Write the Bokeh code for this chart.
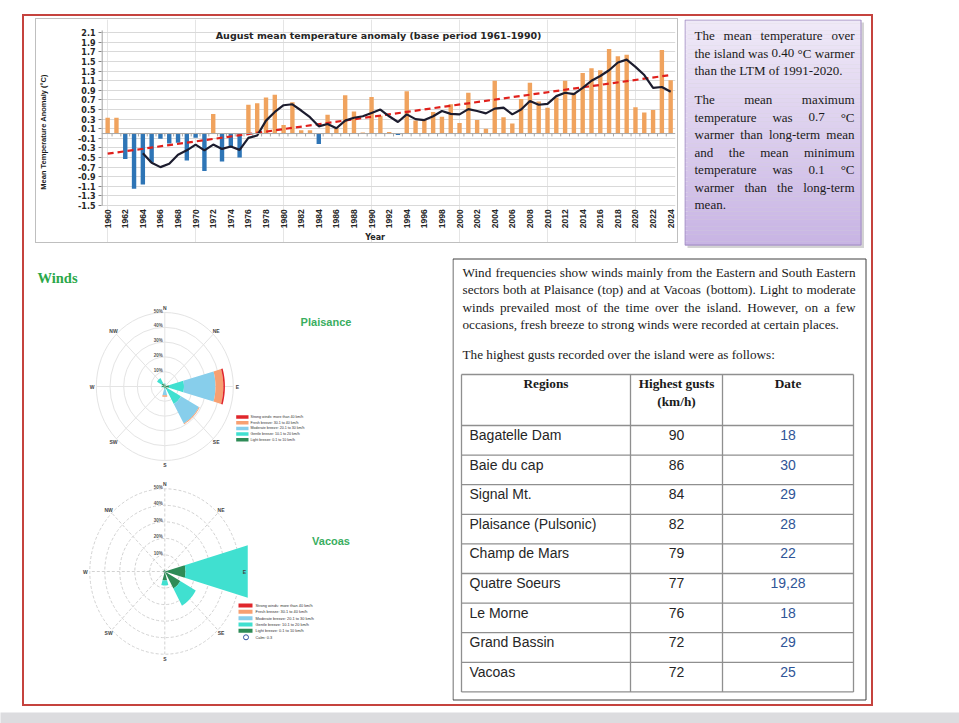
import numpy as np
from bokeh.plotting import figure
from bokeh.models import Range1d, FixedTicker, Label, Span, ColumnDataSource, PrintfTickFormatter
from bokeh.layouts import column, row
from bokeh.embed import file_html
from bokeh.resources import INLINE
from bokeh.core.properties import value

# ---------------- DATA ----------------
years = list(range(1960, 2025))
anomaly = [0.33, 0.33, -0.53, -1.15, -1.06, -0.60, -0.11, -0.21, -0.19, -0.56,
           -0.09, -0.78, 0.41, -0.58, -0.30, -0.50, 0.60, 0.63, 0.75, 0.81,
           0.18, 0.65, 0.07, 0.07, -0.22, 0.39, 0.12, 0.80, 0.46, 0.02,
           0.76, 0.37, 0.03, -0.03, 0.88, 0.27, 0.28, 0.45, 0.35, 0.61,
           0.22, 0.85, 0.28, 0.10, 1.10, 0.34, 0.21, 0.72, 1.06, 0.67,
           0.54, 0.75, 1.10, 0.85, 1.26, 1.36, 1.32, 1.76, 1.61, 1.64,
           0.55, 0.44, 0.49, 1.74, 1.11]
ma_years = list(range(1964, 2025))
ma_values = [-0.41, -0.61, -0.70, -0.63, -0.44, -0.35, -0.23, -0.35, -0.23, -0.32,
             -0.27, -0.34, -0.09, -0.04, 0.27, 0.45, 0.59, 0.61, 0.48, 0.34,
             0.15, 0.20, 0.11, 0.27, 0.33, 0.36, 0.43, 0.50, 0.36, 0.24,
             0.40, 0.30, 0.28, 0.36, 0.47, 0.41, 0.40, 0.51, 0.47, 0.42,
             0.52, 0.54, 0.40, 0.50, 0.68, 0.60, 0.62, 0.78, 0.85, 0.82,
             0.95, 1.10, 1.20, 1.32, 1.48, 1.54, 1.39, 1.22, 0.95, 0.97, 0.87]
trend_years = [1960, 2024]
trend_values = [-0.42, 1.22]
ytick_values = [-1.5, -1.3, -1.1, -0.9, -0.7, -0.5, -0.3, -0.1, 0.1, 0.3, 0.5,
                0.7, 0.9, 1.1, 1.3, 1.5, 1.7, 1.9, 2.1]
xtick_years = [1960, 1962, 1964, 1966, 1968, 1970, 1972, 1974, 1976, 1978, 1980,
               1982, 1984, 1986, 1988, 1990, 1992, 1994, 1996, 1998, 2000, 2002,
               2004, 2006, 2008, 2010, 2012, 2014, 2016, 2018, 2020, 2022, 2024]
chart_title = "August mean temperature anomaly (base period 1961-1990)"

directions = ["N", "NE", "E", "SE", "S", "SW", "W", "NW"]
dir_angles = [90, 45, 0, -45, -90, -135, 180, 135]
speed_classes = ["Strong winds: more than 40 km/h", "Fresh breeze: 30.1 to 40 km/h",
                 "Moderate breeze: 20.1 to 30 km/h", "Gentle breeze: 10.1 to 20 km/h",
                 "Light breeze: 0.1 to 10 km/h"]
class_colors = ["#E0262B", "#F7A072", "#87CEEB", "#40E0D0", "#2E8B57"]
ring_levels = [10, 20, 30, 40, 50]
pl_light = [1.5, 1.0, 3.0, 2.0, 1.0, 0.8, 2.0, 2.5]
pl_gentle = [0.5, 0.3, 11.0, 11.5, 1.0, 0.3, 0.5, 4.0]
pl_moderate = [0.0, 0.0, 23.0, 15.0, 4.0, 0.0, 0.0, 0.0]
pl_fresh = [0.0, 0.0, 5.7, 0.6, 1.0, 0.0, 0.0, 0.0]
pl_strong = [0.0, 0.0, 1.2, 0.0, 0.0, 0.0, 0.0, 0.0]
va_light = [1.0, 0.5, 13.8, 11.8, 5.4, 0.5, 1.0, 0.8]
va_gentle = [0.0, 0.0, 50.0, 11.8, 3.1, 0.0, 0.0, 0.0]
va_moderate = [0.0] * 8
va_fresh = [0.0] * 8
va_strong = [0.0] * 8
va_calm = "Calm: 0.3"

purple_par1 = ["The mean temperature over", "the island was 0.40 \u00b0C warmer",
               "than the LTM of 1991-2020."]
purple_par2 = ["The mean maximum", "temperature was 0.7 \u00b0C", "warmer than long-term mean",
               "and the mean minimum", "temperature was 0.1 \u00b0C",
               "warmer than the long-term", "mean."]
wind_par = ["Wind frequencies show winds mainly from the Eastern and South Eastern",
            "sectors both at Plaisance (top) and at Vacoas (bottom). Light to moderate",
            "winds prevailed most of the time over the island. However, on a few",
            "occasions, fresh breeze to strong winds were recorded at certain places."]
gust_intro = "The highest gusts recorded over the island were as follows:"
table_headers = ["Regions", "Highest gusts", "(km/h)", "Date"]
regions = ["Bagatelle Dam", "Baie du cap", "Signal Mt.", "Plaisance (Pulsonic)", "Champ de Mars",
           "Quatre Soeurs", "Le Morne", "Grand Bassin", "Vacoas"]
gusts = [90, 86, 84, 82, 79, 77, 76, 72, 72]
dates = ["18", "30", "29", "28", "22", "19,28", "18", "29", "25"]

# ---------------- helpers ----------------
SERIF = value("Liberation Serif")
SANS = value("Liberation Sans")
TIMES_W = {' ': 250, '(': 333, ')': 333, ',': 250, '-': 333, '.': 250, ':': 278, '\u00b0': 400,
           'A': 722, 'B': 667, 'C': 667, 'D': 722, 'E': 611, 'F': 556, 'G': 722, 'H': 722, 'I': 333,
           'J': 389, 'K': 722, 'L': 611, 'M': 889, 'N': 722, 'O': 722, 'P': 556, 'Q': 722, 'R': 667,
           'S': 556, 'T': 611, 'U': 722, 'V': 722, 'W': 944, 'X': 722, 'Y': 722, 'Z': 611,
           'a': 444, 'b': 500, 'c': 444, 'd': 500, 'e': 444, 'f': 333, 'g': 500, 'h': 500, 'i': 278,
           'j': 278, 'k': 500, 'l': 278, 'm': 778, 'n': 500, 'o': 500, 'p': 500, 'q': 500, 'r': 333,
           's': 389, 't': 278, 'u': 500, 'v': 500, 'w': 722, 'x': 500, 'y': 500, 'z': 444}


def tw(s, fs):
    return sum(TIMES_W.get(c, 500) for c in s) / 1000.0 * fs


def canvas(w, h, xr, yr, **kw):
    f = figure(width=w, height=h, x_range=Range1d(*xr), y_range=Range1d(*yr),
               output_backend="svg", toolbar_location=None, min_border=0,
               x_axis_location=None, y_axis_location=None, **kw)
    f.outline_line_color = None
    f.grid.visible = False
    f.background_fill_color = "white"
    f.border_fill_color = "white"
    return f


def draw_justified(f, lines, ys, x0, x1, fs, last_lines, color):
    lx, ly, lt, rx, ry, rt = [], [], [], [], [], []
    for i, (line, y) in enumerate(zip(lines, ys)):
        words = line.split()
        if i in last_lines or len(words) == 1:
            lx.append(x0); ly.append(y); lt.append(line)
            continue
        widths = [tw(w, fs) for w in words]
        gap = (x1 - x0 - sum(widths)) / (len(words) - 1)
        x = x0
        for w, wd in zip(words[:-1], widths[:-1]):
            lx.append(x); ly.append(y); lt.append(w)
            x += wd + gap
        rx.append(x1); ry.append(y); rt.append(words[-1])
    common = dict(text_font=SERIF, text_font_size="%.1fpx" % fs, text_baseline="middle",
                  text_color=color)
    f.text(x=lx, y=ly, text=lt, text_align="left", **common)
    if rt:
        f.text(x=rx, y=ry, text=rt, text_align="right", **common)


# ---------------- bar chart ----------------
# frame covers the full canvas height so that the row does not re-align neighbours
bar = figure(width=643, height=225, output_backend="svg", toolbar_location=None,
             x_range=Range1d(1959.3, 2024.55), y_range=Range1d(-2.3125, 2.377),
             min_border_left=65, min_border_right=4, min_border_top=0, min_border_bottom=0,
             x_axis_location=None, margin=(2, 4, 5, 11), styles={"border": "1px solid #BFBFBF"})
bar.outline_line_color = None
bar.background_fill_color = "white"
bar.border_fill_color = "white"
bar.ygrid.ticker = FixedTicker(ticks=ytick_values)
bar.ygrid.grid_line_color = "#D9D9D9"

bar_colors = ["#F0A35E" if v >= 0 else "#2E75B6" for v in anomaly]
src = ColumnDataSource(dict(year=years, val=anomaly, color=bar_colors))
bar.vbar(x="year", top="val", bottom=0, width=0.5, fill_color="color", line_color=None, source=src)
bar.add_layout(Span(location=0, dimension="width", line_color="#A6A6A6", line_width=1))
tick_x = [y + 0.5 for y in years[:-1]]
bar.segment(x0=tick_x, y0=[0] * len(tick_x), x1=tick_x, y1=[-0.06] * len(tick_x),
            line_color="#A6A6A6", line_width=1)
bar.line(trend_years, trend_values, line_color="#E0201B", line_width=2.2, line_dash="6 4")
bar.line(ma_years, ma_values, line_color="#1C1C2E", line_width=2.2)
# y axis line only over the tick span
bar.segment(x0=[1959.36], y0=[ytick_values[0]], x1=[1959.36], y1=[ytick_values[-1] + 0.05],
            line_color="#868686", line_width=1)

bar.yaxis.ticker = FixedTicker(ticks=ytick_values)
bar.yaxis.formatter = PrintfTickFormatter(format="%.1f")
bar.yaxis.axis_line_color = None
bar.yaxis.major_tick_line_color = "#868686"
bar.yaxis.major_tick_in = 0
bar.yaxis.major_tick_out = 3
bar.yaxis.minor_tick_line_color = None
bar.yaxis.major_label_standoff = 3
bar.yaxis.major_label_text_font = "DejaVu Sans"
bar.yaxis.major_label_text_font_style = "bold"
bar.yaxis.major_label_text_font_size = "8px"
bar.yaxis.major_label_text_color = "#262626"
bar.yaxis.axis_label = "Mean Temperature Anomaly (\u00b0C)"
bar.yaxis.axis_label_text_font = "Liberation Sans"
bar.yaxis.axis_label_text_font_style = "bold"
bar.yaxis.axis_label_text_font_size = "7.5px"
bar.yaxis.axis_label_standoff = 27
bar.yaxis.axis_label_text_color = "#1a1a1a"

# year labels (rotated) below the -1.5 line
bar.text(x=xtick_years, y=[ytick_values[0] - 0.08] * len(xtick_years),
         text=[str(y) for y in xtick_years], angle=np.pi / 2, text_align="right",
         text_baseline="middle", text_font=SANS, text_font_style="bold", text_font_size="8.5px",
         text_color="#262626")
bar.text(x=[1990.4], y=[-2.17], text=["Year"], text_align="center", text_baseline="middle",
         text_font=value("DejaVu Sans"), text_font_style="bold", text_font_size="8px",
         text_color="#262626")
bar.text(x=[1990.8], y=[2.04], text=[chart_title], text_align="center", text_baseline="middle",
         text_font=value("DejaVu Sans"), text_font_style="bold", text_font_size="9.5px",
         text_color="#262626")

# ---------------- purple box ----------------
purple = canvas(180, 229, (686, 866), (248, 19), margin=(3, 5, 2, 2))
nq = 60
top_c = np.array([240, 234, 248])
bot_c = np.array([200, 180, 228])
edges = np.linspace(19, 245, nq + 1)
qcol = []
for i in range(nq):
    c = top_c + (bot_c - top_c) * (i + 0.5) / nq
    qcol.append("#%02x%02x%02x" % tuple(int(v) for v in c))
purple.quad(left=[689], right=[866], top=[22], bottom=[248], fill_color="#C8C8C8",
            line_color=None, fill_alpha=0.8)
purple.quad(left=[686] * nq, right=[863] * nq, top=list(edges[:-1]), bottom=list(edges[1:]),
            fill_color=qcol, line_color=None)
purple.quad(left=[686.5], right=[862.5], top=[19.5], bottom=[244.5], fill_color=None,
            line_color="#A18DC2", line_width=1)
draw_justified(purple, purple_par1, [35, 52.5, 70], 696, 856, 13.0, {2}, "#1a1a1a")
draw_justified(purple, purple_par2, [99, 116.6, 134.1, 151.6, 169.1, 186.6, 204.1], 696, 856, 13.0,
               {6}, "#1a1a1a")


# ---------------- wind roses ----------------
def wedge_poly(theta, r0, r1, half=16, n=25):
    a = np.radians(np.linspace(theta - half, theta + half, n))
    xs = list(r1 * np.cos(a)) + list(r0 * np.cos(a[::-1]))
    ys = list(r1 * np.sin(a)) + list(r0 * np.sin(a[::-1]))
    return xs, ys


def clip_x(xs, ys, c):
    ox, oy = [], []
    n = len(xs)
    for i in range(n):
        x1, y1 = xs[i], ys[i]
        x2, y2 = xs[(i + 1) % n], ys[(i + 1) % n]
        in1, in2 = x1 <= c, x2 <= c
        if in1:
            ox.append(x1); oy.append(y1)
        if in1 != in2:
            t = (c - x1) / (x2 - x1)
            ox.append(c); oy.append(y1 + t * (y2 - y1))
    return ox, oy


def rose(height, page_top, cx, cy, sx, sy, classes, ring_dash, ring_color, clip=None):
    f = canvas(428, height, ((24 - cx) / sx, (452 - cx) / sx),
               ((cy - (page_top + height)) / sy, (cy - page_top) / sy))

    def P(xp, yp):
        return (xp - cx) / sx, (cy - yp) / sy

    f.ellipse(x=[0] * 5, y=[0] * 5, width=[2 * r for r in ring_levels],
              height=[2 * r for r in ring_levels], fill_color=None, line_color=ring_color,
              line_width=1, line_dash=ring_dash)
    rad = np.radians(dir_angles)
    f.segment(x0=[0] * 8, y0=[0] * 8, x1=list(50 * np.cos(rad)), y1=list(50 * np.sin(rad)),
              line_color=ring_color, line_width=1, line_dash=ring_dash)
    order = list(zip(classes[::-1], class_colors[::-1]))
    pxs, pys, pcs = [], [], []
    for d, ang in enumerate(dir_angles):
        r0 = 0.0
        for vals, col in order:
            v = vals[d]
            if v <= 0:
                continue
            xs, ys = wedge_poly(ang, r0, r0 + v)
            if clip is not None:
                xs, ys = clip_x(xs, ys, clip)
            pxs.append(xs); pys.append(ys); pcs.append(col)
            r0 += v
    f.patches(xs=pxs, ys=pys, fill_color=pcs, line_color=None)
    lr = 53
    f.text(x=list(lr * np.cos(rad)), y=list(lr * np.sin(rad)), text=directions,
           text_font=SANS, text_font_style="bold", text_font_size="5px", text_align="center",
           text_baseline="middle", text_color="#444444")
    f.text(x=[-2.0 / sx] * 5, y=[r + 1.0 for r in ring_levels], text=["%d%%" % r for r in ring_levels],
           text_font=SANS, text_font_style="bold", text_font_size="4.5px", text_align="right",
           text_baseline="middle", text_color="#555555")
    return f, P


plai, Pp = rose(225, 250, 164.3, 386, 1.37, 1.48,
                [pl_strong, pl_fresh, pl_moderate, pl_gentle, pl_light], "solid", "#E4E4E4")
vac, Pv = rose(229, 475, 164.3, 571, 1.5, 1.654,
               [va_strong, va_fresh, va_moderate, va_gentle, va_light], "3 2", "#D2D2D2", clip=55.3)

wx, wy = Pp(37, 277)
plai.text(x=[wx], y=[wy], text=["Winds"], text_font=SERIF, text_font_style="bold",
          text_font_size="14.5px", text_align="left", text_baseline="middle", text_color="#2BA84A")
px_, py_ = Pp(325.5, 321)
plai.text(x=[px_], y=[py_], text=["Plaisance"], text_font=SANS, text_font_style="bold",
          text_font_size="11px", text_align="center", text_baseline="middle", text_color="#3AAE5F")
vx_, vy_ = Pv(330.5, 540)
vac.text(x=[vx_], y=[vy_], text=["Vacoas"], text_font=SANS, text_font_style="bold",
         text_font_size="11px", text_align="center", text_baseline="middle", text_color="#3AAE5F")


def rose_legend(f, P, x_sw0, x_sw1, x_txt, ys, sw_h, fs):
    l, r, t, b, tx, ty = [], [], [], [], [], []
    for y in ys[:5]:
        x0, y0 = P(x_sw0, y - sw_h / 2)
        x1, y1 = P(x_sw1, y + sw_h / 2)
        l.append(x0); r.append(x1); t.append(y0); b.append(y1)
        xt, yt = P(x_txt, y)
        tx.append(xt); ty.append(yt)
    f.quad(left=l, right=r, top=t, bottom=b, fill_color=class_colors, line_color=None)
    f.text(x=tx, y=ty, text=speed_classes, text_font=SANS, text_font_size=fs, text_align="left",
           text_baseline="middle", text_color="#333333")


rose_legend(plai, Pp, 235.7, 248, 250, [416.5, 422.2, 427.9, 433.6, 439.3], 3.5, "3.6px")
rose_legend(vac, Pv, 238, 252, 255, [605, 611.3, 617.7, 624, 630.3], 4.0, "3.9px")
cxv, cyv = Pv(245.5, 636.8)
vac.scatter(x=[cxv], y=[cyv], size=5, marker="circle", fill_color="white", line_color="#3050A0",
            line_width=1)
tcx, tcy = Pv(255, 636.8)
vac.text(x=[tcx], y=[tcy], text=[va_calm], text_font=SANS, text_font_size="3.9px", text_align="left",
         text_baseline="middle", text_color="#333333")

# ---------------- right text + table ----------------
right = canvas(419, 454, (452, 871), (704, 250))
right.quad(left=[452.5], right=[865.5], top=[258.5], bottom=[699.5], fill_color=None,
           line_color="#404040", line_width=1)
draw_justified(right, wind_par, [271.5, 289, 306.5, 324], 462, 855, 13.2, {3}, "#1a1a1a")
right.text(x=[462], y=[354], text=[gust_intro], text_font=SERIF, text_font_size="13.2px",
           text_align="left", text_baseline="middle", text_color="#1a1a1a")

t_left, t_c1, t_c2, t_right = 461, 630, 722, 853
t_top, head_bot, row_h = 374, 425, 29.6
hlines = [t_top] + [head_bot + row_h * k for k in range(len(regions) + 1)]
right.segment(x0=[t_left] * len(hlines), y0=hlines, x1=[t_right] * len(hlines), y1=hlines,
              line_color="#8F8F8F", line_width=1.3)
vx = [t_left, t_c1, t_c2, t_right]
right.segment(x0=vx, y0=[t_top] * 4, x1=vx, y1=[hlines[-1]] * 4, line_color="#8F8F8F", line_width=1.3)
c1 = (t_left + t_c1) / 2
c2 = (t_c1 + t_c2) / 2
c3 = (t_c2 + t_right) / 2
right.text(x=[c1, c2, c2, c3], y=[383, 383, 400.5, 383], text=table_headers, text_font=SERIF,
           text_font_style="bold", text_font_size="13.3px", text_align="center",
           text_baseline="middle", text_color="#1a1a1a")
row_y = [head_bot + row_h * k + 9.5 for k in range(len(regions))]
right.text(x=[469] * len(regions), y=row_y, text=regions, text_font=SANS, text_font_size="14px",
           text_align="left", text_baseline="middle", text_color="#262626")
right.text(x=[c2] * len(gusts), y=row_y, text=[str(g) for g in gusts], text_font=SANS,
           text_font_size="14px", text_align="center", text_baseline="middle", text_color="#262626")
right.text(x=[c3] * len(dates), y=row_y, text=dates, text_font=SANS, text_font_size="14px",
           text_align="center", text_baseline="middle", text_color="#2F5597")

# ---------------- layout ----------------
strip = canvas(959, 12, (0, 1), (0, 1), margin=(6, 0, 0, 0))
strip.background_fill_color = "#DCDCDF"
strip.border_fill_color = "#DCDCDF"

top_row = row(bar, purple)
bottom_row = row(column(plai, vac), right)
root = column(top_row, bottom_row, styles={"border": "2px solid #C5433E"}, margin=(14, 0, 0, 22))
page = column(root, strip)

open("out.html", "w").write(file_html(page, INLINE))
